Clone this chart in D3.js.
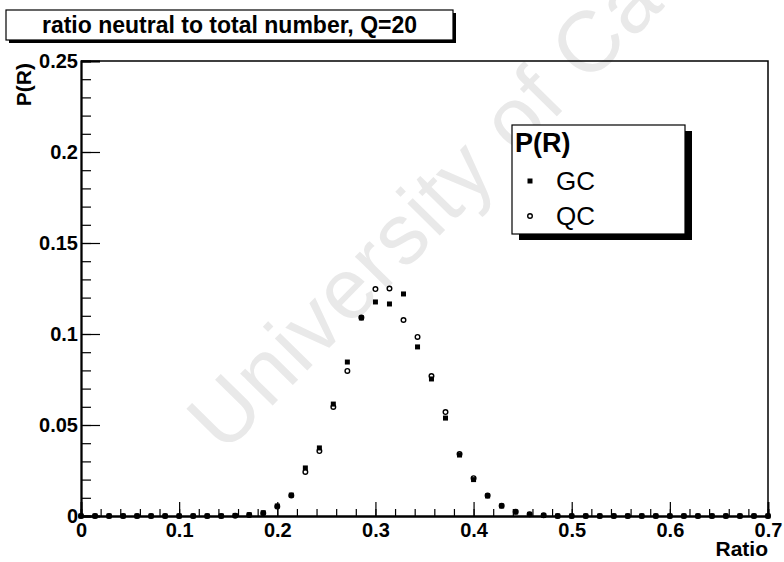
<!DOCTYPE html>
<html>
<head>
<meta charset="utf-8">
<script src="https://cdn.jsdelivr.net/npm/d3@7"></script>
<style>
  html, body { margin: 0; padding: 0; background: #fff; }
  svg { display: block; font-family: "Liberation Sans", Arial, Helvetica, sans-serif; }
</style>
</head>
<body>
<svg id="chart" width="784" height="562"></svg>
<script>
// Bin centres of the ratio histogram (neutral / total)
const ratio = [
  0.0000, 0.0143, 0.0286, 0.0429, 0.0571, 0.0714, 0.0857, 0.1000, 0.1143, 0.1286,
  0.1429, 0.1571, 0.1714, 0.1857, 0.2000, 0.2143, 0.2286, 0.2429, 0.2571, 0.2714,
  0.2857, 0.3000, 0.3143, 0.3286, 0.3429, 0.3571, 0.3714, 0.3857, 0.4000, 0.4143,
  0.4286, 0.4429, 0.4571, 0.4714, 0.4857, 0.5000, 0.5143, 0.5286, 0.5429, 0.5571,
  0.5714, 0.5857, 0.6000, 0.6143, 0.6286, 0.6429, 0.6571, 0.6714, 0.6857, 0.7000
];

// P(R) for the GC sample
const gcValues = [
  0, 0, 0, 0, 0, 0, 0, 0, 0, 0,
  0, 0.0003, 0.0007, 0.0018, 0.0055, 0.0115, 0.0264, 0.0374, 0.0615, 0.0846,
  0.1088, 0.1176, 0.1165, 0.1220, 0.0929, 0.0753, 0.0538, 0.0335, 0.0200, 0.0110,
  0.0055, 0.0022, 0.0009, 0.0003, 0, 0, 0, 0, 0, 0,
  0, 0, 0, 0, 0, 0, 0, 0, 0, 0
];

// P(R) for the QC sample
const qcValues = [
  0, 0, 0, 0, 0, 0, 0, 0, 0, 0,
  0, 0.0002, 0.0006, 0.0015, 0.0052, 0.0113, 0.0242, 0.0357, 0.0599, 0.0797,
  0.1090, 0.1247, 0.1250, 0.1077, 0.0984, 0.0769, 0.0571, 0.0340, 0.0208, 0.0112,
  0.0057, 0.0023, 0.0010, 0.0004, 0, 0, 0, 0, 0, 0,
  0, 0, 0, 0, 0, 0, 0, 0, 0, 0
];

const xTickValues = [0, 0.1, 0.2, 0.3, 0.4, 0.5, 0.6, 0.7];
const xTickLabels = ["0", "0.1", "0.2", "0.3", "0.4", "0.5", "0.6", "0.7"];
const yTickValues = [0, 0.05, 0.1, 0.15, 0.2, 0.25];
const yTickLabels = ["0", "0.05", "0.1", "0.15", "0.2", "0.25"];
const xMinorTicks = d3.range(0, 36).map(i => +(i * 0.02).toFixed(2)).filter(v => v <= 0.7);
const yMinorTicks = d3.range(0, 26).map(i => +(i * 0.01).toFixed(2));

const titleText = "ratio neutral to total number, Q=20";
const legendTitle = "P(R)";
const seriesNames = ["GC", "QC"];

const svg = d3.select("#chart");
const plot = { left: 81, right: 768, top: 61, bottom: 516 };

const x = d3.scaleLinear().domain([0, 0.7]).range([plot.left, plot.right]);
const y = d3.scaleLinear().domain([0, 0.25]).range([plot.bottom, plot.top]);

// Faint background watermark
svg.append("text")
  .attr("transform", "translate(224,455) rotate(-45.5)")
  .attr("font-size", 86)
  .attr("letter-spacing", 1.5)
  .attr("fill", "#e9e9e9")
  .text("University of Ca");

// Frame: top and right edges
svg.append("path")
  .attr("d", `M${plot.left},${plot.top}H${plot.right}V${plot.bottom}`)
  .attr("fill", "none").attr("stroke", "#000").attr("stroke-width", 1.5);

// X axis (ticks point up into the frame)
const xMinor = svg.append("g").attr("transform", `translate(0,${plot.bottom})`)
  .call(d3.axisBottom(x).tickValues(xMinorTicks).tickSize(-7).tickFormat(""));
const xMajor = svg.append("g").attr("transform", `translate(0,${plot.bottom})`)
  .call(d3.axisBottom(x).tickValues(xTickValues).tickSize(-14).tickPadding(7)
    .tickFormat((d, i) => xTickLabels[i]));

// Y axis (ticks point right into the frame)
const yMinor = svg.append("g").attr("transform", `translate(${plot.left},0)`)
  .call(d3.axisLeft(y).tickValues(yMinorTicks).tickSize(-10).tickFormat(""));
const yMajor = svg.append("g").attr("transform", `translate(${plot.left},0)`)
  .call(d3.axisLeft(y).tickValues(yTickValues).tickSize(-19).tickPadding(3)
    .tickFormat((d, i) => yTickLabels[i]));

[xMinor, xMajor, yMinor, yMajor].forEach(g => {
  g.selectAll(".domain").attr("stroke", "#000").attr("stroke-width", 1.8);
  g.selectAll(".tick line").attr("stroke", "#000").attr("stroke-width", 1.2);
  g.selectAll("text").attr("font-family", "Liberation Sans, Arial, sans-serif")
    .attr("font-size", 20).attr("font-weight", "bold").attr("fill", "#000");
});

// Axis titles
svg.append("text")
  .attr("transform", "translate(31,63) rotate(-90)")
  .attr("text-anchor", "end")
  .attr("font-size", 21).attr("font-weight", "bold")
  .text("P(R)");
svg.append("text")
  .attr("x", plot.right).attr("y", 556)
  .attr("text-anchor", "end")
  .attr("font-size", 21).attr("font-weight", "bold")
  .text("Ratio");

// Data markers
const gcData = ratio.map((r, i) => ({ r, v: gcValues[i] }));
const qcData = ratio.map((r, i) => ({ r, v: qcValues[i] }));

svg.append("g").selectAll("circle").data(qcData).join("circle")
  .attr("cx", d => x(d.r)).attr("cy", d => y(d.v)).attr("r", 2.3)
  .attr("fill", "#fff").attr("stroke", "#000").attr("stroke-width", 1.4);

svg.append("g").selectAll("rect").data(gcData).join("rect")
  .attr("x", d => x(d.r) - 2.5).attr("y", d => y(d.v) - 2.5)
  .attr("width", 5).attr("height", 5).attr("fill", "#000");

// Title box with drop shadow
const tb = { x: 6, y: 10, w: 447, h: 30 };
svg.append("rect").attr("x", tb.x + 3).attr("y", tb.y + 3).attr("width", tb.w).attr("height", tb.h).attr("fill", "#000");
svg.append("rect").attr("x", tb.x).attr("y", tb.y).attr("width", tb.w).attr("height", tb.h)
  .attr("fill", "#fff").attr("stroke", "#000").attr("stroke-width", 1.2);
svg.append("text").attr("x", tb.x + tb.w / 2).attr("y", tb.y + 23)
  .attr("text-anchor", "middle").attr("font-size", 23).attr("font-weight", "bold")
  .text(titleText);

// Legend box with drop shadow
const lg = { x: 512, y: 125, w: 173, h: 109 };
svg.append("rect").attr("x", lg.x + 7).attr("y", lg.y + 6).attr("width", lg.w).attr("height", lg.h).attr("fill", "#000");
svg.append("rect").attr("x", lg.x).attr("y", lg.y).attr("width", lg.w).attr("height", lg.h)
  .attr("fill", "#fff").attr("stroke", "#000").attr("stroke-width", 1.2);
svg.append("text").attr("x", lg.x + 3).attr("y", lg.y + 27)
  .attr("font-size", 27).attr("font-weight", "bold").text(legendTitle);

const rowY = [lg.y + 56, lg.y + 91];
svg.append("rect").attr("x", 530 - 2.5).attr("y", rowY[0] - 2.5).attr("width", 5).attr("height", 5).attr("fill", "#000");
svg.append("circle").attr("cx", 530).attr("cy", rowY[1]).attr("r", 2.3)
  .attr("fill", "#fff").attr("stroke", "#000").attr("stroke-width", 1.4);
seriesNames.forEach((name, i) => {
  svg.append("text").attr("x", 556).attr("y", rowY[i] + 9)
    .attr("font-size", 26).text(name);
});
</script>
</body>
</html>
